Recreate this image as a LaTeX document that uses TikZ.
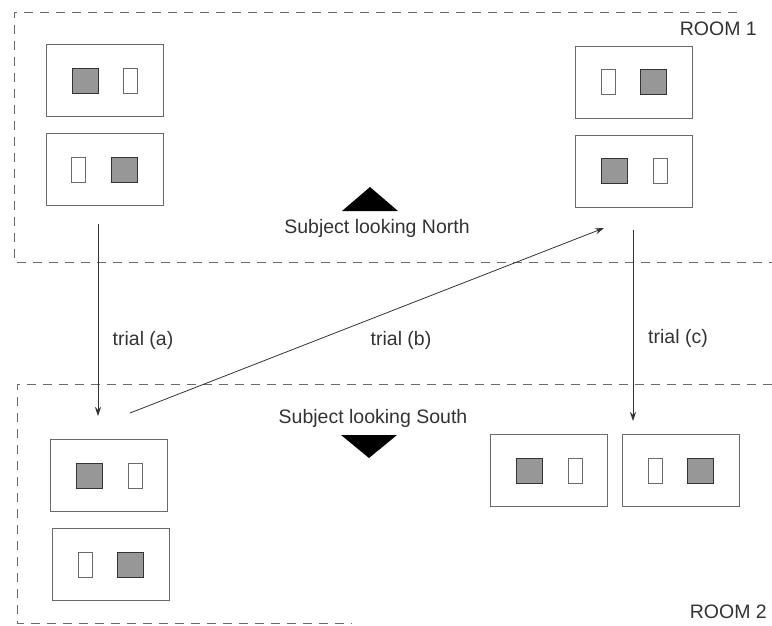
\documentclass[tikz,border=0pt]{standalone}
\usepackage{fontspec}
\setmainfont{Liberation Sans}
\usetikzlibrary{arrows.meta}
\definecolor{ink}{HTML}{333333}
\definecolor{frame}{HTML}{6A6A6A}
\definecolor{stim}{HTML}{979797}
\tikzset{
  roomline/.style={draw=frame, line width=0.9pt, dash pattern=on 9pt off 7pt},
  card/.style={draw=frame, line width=0.9pt, rectangle, minimum width=117pt, minimum height=72pt, inner sep=0pt},
  fullstim/.style={draw=ink, line width=0.8pt, fill=stim, rectangle, minimum width=26pt, minimum height=25pt, inner sep=0pt},
  emptystim/.style={draw=frame, line width=0.8pt, fill=white, rectangle, minimum width=14pt, minimum height=25pt, inner sep=0pt},
  label/.style={text=ink, font=\fontsize{19.5}{22}\selectfont, inner sep=0pt},
  move/.style={draw=ink, line width=0.8pt, -{Stealth[length=9pt, width=6pt, inset=3pt]}},
  marker/.style={fill=black, draw=none}
}
% a card holding a filled and an empty stimulus
\newcommand\cardFO[2]{%
  \node[card] (#1) at #2 {};
  \node[fullstim] (#1-f) at ([xshift=-19.5pt]#1.center) {};
  \node[emptystim] (#1-e) at ([xshift=26pt]#1.center) {};
}
\newcommand\cardOF[2]{%
  \node[card] (#1) at #2 {};
  \node[emptystim] (#1-e) at ([xshift=-26pt]#1.center) {};
  \node[fullstim] (#1-f) at ([xshift=19.5pt]#1.center) {};
}
\begin{document}
\begin{tikzpicture}[x=1pt, y=-1pt]
\useasboundingbox (0,0) rectangle (772,625);

% room outlines
\draw[roomline] (737,12) -- (14,12) -- (14,262) -- (772,262);
\draw[roomline] (772,384) -- (17,384) -- (17,623) -- (352,623);
\node[label, anchor=east] (room1) at (757,29) {ROOM 1};
\node[label, anchor=east] (room2) at (767,612) {ROOM 2};

% room 1 cards
\cardFO{c1}{(104.5,80.5)}
\cardOF{c2}{(104.5,169.5)}
\cardOF{c3}{(634,82)}
\cardFO{c4}{(634,171)}

% room 2 cards
\cardFO{c5}{(109,475.5)}
\cardOF{c6}{(111,564.5)}
\cardFO{c7}{(549,470.5)}
\cardOF{c8}{(681,470.5)}

% viewing direction markers
\path[marker] (342,211) -- (370,187) -- (398,211) -- cycle;
\node[label] (north) at (377,228) {Subject looking North};
\path[marker] (341,435) -- (397,435) -- (369,458) -- cycle;
\node[label] (south) at (373,418) {Subject looking South};

% trials
\coordinate (aS) at (98,224);
\coordinate (aE) at (98,416);
\coordinate (bS) at (130,413);
\coordinate (bE) at (604,228);
\coordinate (cS) at (633,230);
\coordinate (cE) at (633,421);
\draw[move] (aS) -- (aE);
\draw[move] (bS) -- (bE);
\draw[move] (cS) -- (cE);
\node[label] (ta) at (143,340) {trial (a)};
\node[label] (tb) at (401,340) {trial (b)};
\node[label] (tc) at (678,338) {trial (c)};
\end{tikzpicture}
\end{document}
